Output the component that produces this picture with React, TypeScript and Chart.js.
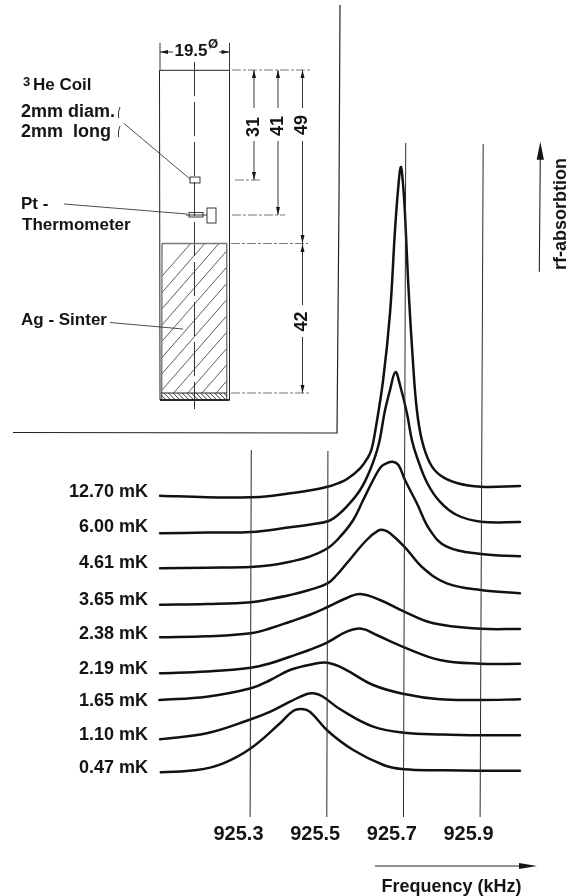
import React, { useEffect, useRef } from "react";
import { Chart, registerables } from "chart.js";

Chart.register(...registerables);

const temperatureLabels = ["12.70 mK", "6.00 mK", "4.61 mK", "3.65 mK", "2.38 mK", "2.19 mK", "1.65 mK", "1.10 mK", "0.47 mK"];
const labelLevels = [325, 290.3, 254.3, 217, 183, 148, 116, 82, 49];
const frequencyTicks = [925.3, 925.5, 925.7, 925.9];

const f1270 = [925.064, 925.186, 925.301, 925.352, 925.403, 925.453, 925.501, 925.528, 925.551, 925.586, 925.607, 925.616, 925.625, 925.646, 925.664, 925.677, 925.686, 925.692, 925.697, 925.703, 925.711, 925.724, 925.734, 925.747, 925.768, 925.794, 925.838, 925.901, 926.003];
const a1270 = [321.3, 319.7, 319.7, 321, 323.7, 326.5, 330.3, 333.7, 337.7, 348.7, 360, 368, 385, 437, 504, 587, 632, 650, 637, 604, 537, 454, 407, 377, 354, 342, 334, 330.3, 331];
const f600 = [925.064, 925.186, 925.301, 925.403, 925.453, 925.504, 925.528, 925.551, 925.586, 925.612, 925.634, 925.650, 925.664, 925.678, 925.690, 925.708, 925.721, 925.735, 925.761, 925.794, 925.838, 925.901, 926.003];
const a600 = [283.7, 284.5, 285, 289.7, 292.3, 296, 302, 310.3, 327, 347, 372, 405, 427, 445, 432, 404, 377, 359, 334, 315.3, 302, 295.3, 295];
const f461 = [925.064, 925.186, 925.301, 925.352, 925.403, 925.453, 925.501, 925.534, 925.568, 925.594, 925.620, 925.640, 925.655, 925.671, 925.686, 925.703, 925.734, 925.768, 925.812, 925.901, 926.003];
const a461 = [248.7, 249.3, 250, 251.7, 255.3, 260.3, 268.7, 280.3, 297, 317, 337, 350, 353.7, 355.3, 352, 337, 313.7, 287, 270.3, 263, 260.7];
const f365 = [925.064, 925.186, 925.301, 925.352, 925.403, 925.453, 925.501, 925.525, 925.551, 925.603, 925.633, 925.647, 925.664, 925.703, 925.751, 925.812, 925.901, 926.003];
const a365 = [212.3, 213, 214.7, 218, 222, 227, 233.7, 242, 253.7, 277, 286.3, 287, 283.7, 269.7, 248.7, 233.7, 227, 223.7];
const f238 = [925.064, 925.186, 925.301, 925.352, 925.403, 925.453, 925.501, 925.551, 925.586, 925.638, 925.701, 925.777, 925.901, 926.003];
const a238 = [179.7, 180.7, 183.7, 188.7, 195.3, 202, 210, 219, 223, 217, 205.3, 193.7, 188.3, 188];
const f219 = [925.064, 925.186, 925.301, 925.352, 925.403, 925.453, 925.501, 925.551, 925.590, 925.629, 925.701, 925.794, 925.901, 926.003];
const a219 = [143.7, 145.5, 149.3, 153.7, 160.3, 167, 174.7, 185.3, 188.3, 182, 169.7, 157, 153.3, 153.3];
const f165 = [925.062, 925.186, 925.301, 925.352, 925.403, 925.464, 925.501, 925.542, 925.620, 925.701, 925.794, 925.901, 926.003];
const a165 = [117, 120.3, 128.7, 137, 147, 153, 154.3, 148.7, 132, 123, 117.7, 117, 117.7];
const f110 = [925.064, 925.186, 925.301, 925.352, 925.403, 925.447, 925.464, 925.486, 925.534, 925.620, 925.701, 925.801, 925.901, 926.003];
const a110 = [77.7, 83.7, 97.7, 105.3, 115.3, 123, 123.7, 121, 107.7, 90.3, 84.3, 82.5, 81.7, 81.7];
const f047 = [925.066, 925.160, 925.229, 925.301, 925.377, 925.412, 925.434, 925.455, 925.501, 925.568, 925.647, 925.701, 925.801, 925.901, 926.003];
const a047 = [44.7, 47, 53.7, 68.7, 93.7, 106.3, 108, 105.3, 86.3, 67, 52, 47.7, 46.8, 46.3, 46.3];

const curveFreqs = [f1270, f600, f461, f365, f238, f219, f165, f110, f047];
const curveAbs = [a1270, a600, a461, a365, a238, a219, a165, a110, a047];

const guideFreqs = [[925.302, 925.299], [925.502, 925.499], [925.705, 925.699], [925.907, 925.899]];
const guideAbs = [[367, 0], [366, 0], [674, 0], [673, 0]];

const FONT = "'Liberation Sans', Arial, sans-serif";
const INK = "#141414";

function line(ctx: CanvasRenderingContext2D, pts: number[][], w = 1, color = "#222") {
  ctx.lineWidth = w;
  ctx.strokeStyle = color;
  ctx.beginPath();
  pts.forEach(([x, y], i) => (i ? ctx.lineTo(x, y) : ctx.moveTo(x, y)));
  ctx.stroke();
}

function arrow(ctx: CanvasRenderingContext2D, x: number, y: number, dx: number, dy: number, len: number, half: number) {
  ctx.fillStyle = INK;
  ctx.beginPath();
  ctx.moveTo(x, y);
  ctx.lineTo(x - dx * len - dy * half, y - dy * len - dx * half);
  ctx.lineTo(x - dx * len + dy * half, y - dy * len + dx * half);
  ctx.closePath();
  ctx.fill();
}

function text(ctx: CanvasRenderingContext2D, s: string, x: number, y: number, size = 18, align: CanvasTextAlign = "left", rot = 0) {
  ctx.save();
  ctx.translate(x, y);
  if (rot) ctx.rotate(rot);
  ctx.font = `bold ${size}px ${FONT}`;
  ctx.fillStyle = INK;
  ctx.textAlign = align;
  ctx.textBaseline = "middle";
  ctx.fillText(s, 0, 0);
  ctx.restore();
}

const schematic = {
  id: "schematic",
  afterDatasetsDraw(chart: any) {
    const ctx: CanvasRenderingContext2D = chart.ctx;
    ctx.save();
    ctx.lineCap = "butt";

    // page frame round the inset
    line(ctx, [[340, 5], [339, 200], [337, 433], [13, 432.5]], 1.2, "#222");

    // cylinder
    line(ctx, [[159.5, 70.3], [229.5, 70.3]], 1);
    line(ctx, [[159.5, 70.3], [160, 400], [229.5, 400], [229.5, 70.3]], 1);
    ctx.setLineDash([34, 6]);
    line(ctx, [[194.5, 62], [194.5, 409]], 1, "#333");
    ctx.setLineDash([]);

    // sinter block
    ctx.save();
    ctx.beginPath();
    ctx.rect(162, 243.5, 65, 149.5);
    ctx.clip();
    for (let x = 60; x < 240; x += 14.2) line(ctx, [[x, 393], [x + 131, 243]], 0.8, "#333");
    ctx.restore();
    line(ctx, [[162, 243.5], [226.7, 243.5], [226.7, 400], [161.7, 400], [162, 243.5]], 1.4, "#777");
    ctx.save();
    ctx.beginPath();
    ctx.rect(161, 393, 66, 7);
    ctx.clip();
    for (let x = 150; x < 235; x += 4.6) line(ctx, [[x, 393], [x + 7, 400]], 0.9, "#222");
    ctx.restore();
    line(ctx, [[161, 393], [227, 393]], 1, "#222");
    line(ctx, [[160, 400], [229.5, 400]], 1.6, "#111");

    // coil and thermometer
    ctx.lineWidth = 0.9;
    ctx.strokeStyle = "#222";
    ctx.strokeRect(190, 177, 10, 6);
    ctx.strokeRect(189, 212.5, 14, 4.5);
    ctx.strokeRect(207, 208, 9, 15);
    line(ctx, [[186, 215], [207, 215]], 0.9);

    // 19.5 dimension
    line(ctx, [[160, 43], [160, 70]], 0.9);
    line(ctx, [[229.5, 43], [229.5, 70]], 0.9);
    line(ctx, [[160, 52], [173, 52]], 0.9);
    line(ctx, [[219, 52], [229.5, 52]], 0.9);
    arrow(ctx, 160, 52, -1, 0, 8, 2);
    arrow(ctx, 229.5, 52, 1, 0, 8, 2);
    text(ctx, "19.5", 191, 51, 17, "center");
    text(ctx, "Ø", 213, 44, 13, "center");

    // extension lines
    ctx.setLineDash([9, 2, 3, 2]);
    line(ctx, [[232, 70], [312, 70]], 0.8, "#555");
    line(ctx, [[235, 180], [261, 180]], 0.8, "#555");
    line(ctx, [[232, 215], [285, 215]], 0.8, "#555");
    line(ctx, [[231, 243.5], [308, 243.5]], 0.8, "#555");
    line(ctx, [[231, 393], [309, 393]], 0.8, "#555");
    ctx.setLineDash([]);

    // vertical dimensions
    line(ctx, [[254, 70], [254, 108]], 0.9);
    line(ctx, [[254, 141], [254, 180]], 0.9);
    arrow(ctx, 254, 70, 0, -1, 8, 2);
    arrow(ctx, 254, 180, 0, 1, 8, 2);
    text(ctx, "31", 254, 127, 18, "center", -Math.PI / 2);

    line(ctx, [[278, 70], [278, 108]], 0.9);
    line(ctx, [[278, 141], [278, 215]], 0.9);
    arrow(ctx, 278, 70, 0, -1, 8, 2);
    arrow(ctx, 278, 215, 0, 1, 8, 2);
    text(ctx, "41", 278, 126, 18, "center", -Math.PI / 2);

    line(ctx, [[302.5, 70], [302.5, 108]], 0.9);
    line(ctx, [[302.5, 141], [302.5, 243]], 0.9);
    arrow(ctx, 302.5, 70, 0, -1, 8, 2);
    arrow(ctx, 302.5, 243, 0, 1, 8, 2);
    text(ctx, "49", 302.5, 125, 18, "center", -Math.PI / 2);

    line(ctx, [[302.5, 244], [302.5, 305]], 0.9);
    line(ctx, [[302.5, 337], [302.5, 393]], 0.9);
    arrow(ctx, 302.5, 244, 0, -1, 8, 2);
    arrow(ctx, 302.5, 393, 0, 1, 8, 2);
    text(ctx, "42", 302.5, 321.5, 18, "center", -Math.PI / 2);

    // annotations
    text(ctx, "3", 23, 82, 13);
    text(ctx, "He Coil", 33, 85, 17);
    text(ctx, "2mm diam.", 21, 112, 18);
    text(ctx, "2mm  long", 21, 132, 18);
    line(ctx, [[120, 107], [118.5, 112], [118.5, 118]], 0.9);
    line(ctx, [[120, 126], [118.5, 131], [118.5, 137]], 0.9);
    line(ctx, [[124, 123.5], [190, 179]], 0.8);
    text(ctx, "Pt -", 21, 204, 17);
    text(ctx, "Thermometer", 22, 225, 17);
    line(ctx, [[64, 204], [187, 214]], 0.8);
    text(ctx, "Ag - Sinter", 21, 320, 17);
    line(ctx, [[110, 322.5], [183, 329]], 0.8);

    // rf-absorption arrow and label
    line(ctx, [[539.3, 271.7], [540.3, 155]], 1.1);
    arrow(ctx, 540.3, 141.7, 0, -1, 18, 3.6);
    text(ctx, "rf-absorbtion", 560.7, 214, 18, "center", -Math.PI / 2);

    // frequency arrow and label
    line(ctx, [[375, 866], [522, 866]], 1.1);
    arrow(ctx, 537, 866, 1, 0, 18, 3);
    text(ctx, "Frequency (kHz)", 451.5, 887, 18, "center");

    ctx.restore();
  },
};

export default function App() {
  const ref = useRef<HTMLCanvasElement>(null);
  useEffect(() => {
    document.body.style.margin = "0";
    document.body.style.background = "#fff";
    const curves = curveFreqs.map((fs, i) => ({
      label: temperatureLabels[i],
      data: fs.map((x, j) => ({ x, y: curveAbs[i][j] })),
      borderColor: "#111",
      borderWidth: 2.5,
      pointRadius: 0,
      tension: 0.4,
      fill: false,
      borderCapStyle: "round" as const,
      borderJoinStyle: "round" as const,
    }));
    const guides = guideFreqs.map((fs, i) => ({
      label: `guide ${frequencyTicks[i].toFixed(1)}`,
      data: fs.map((x, j) => ({ x, y: guideAbs[i][j] })),
      borderColor: "#2a2a2a",
      borderWidth: 1,
      pointRadius: 0,
      fill: false,
    }));
    const chart = new Chart(ref.current!, {
      type: "line",
      data: { datasets: [...guides, ...curves] },
      options: {
        responsive: false,
        animation: false,
        layout: { padding: 0 },
        plugins: { legend: { display: false }, tooltip: { enabled: false }, title: { display: false } },
        scales: {
          x: {
            type: "linear",
            min: 925.0378,
            max: 926.1283,
            grid: { display: false, drawTicks: false },
            border: { display: false },
            afterBuildTicks: (s: any) => {
              s.ticks = frequencyTicks.map((value) => ({ value }));
            },
            afterFit: (s: any) => {
              s.height = 79;
              s.paddingLeft = 0;
              s.paddingRight = 0;
            },
            ticks: {
              autoSkip: false,
              maxRotation: 0,
              labelOffset: -12,
              padding: 5,
              color: INK,
              font: { family: FONT, size: 20, weight: "bold" },
              callback: (v: any) => Number(v).toFixed(1),
            },
          },
          y: {
            type: "linear",
            min: 0,
            max: 817,
            grid: { display: false, drawTicks: false },
            border: { display: false },
            afterBuildTicks: (s: any) => {
              s.ticks = labelLevels.map((value) => ({ value }));
            },
            afterFit: (s: any) => {
              s.width = 150;
              s.paddingTop = 0;
              s.paddingBottom = 0;
            },
            ticks: {
              autoSkip: false,
              padding: 2,
              color: INK,
              font: { family: FONT, size: 18, weight: "bold" },
              callback: (v: any) => temperatureLabels[labelLevels.indexOf(Number(v))] ?? "",
            },
          },
        },
      },
      plugins: [schematic],
    } as any);
    return () => chart.destroy();
  }, []);
  return <canvas ref={ref} width={568} height={896} style={{ display: "block" }} />;
}
